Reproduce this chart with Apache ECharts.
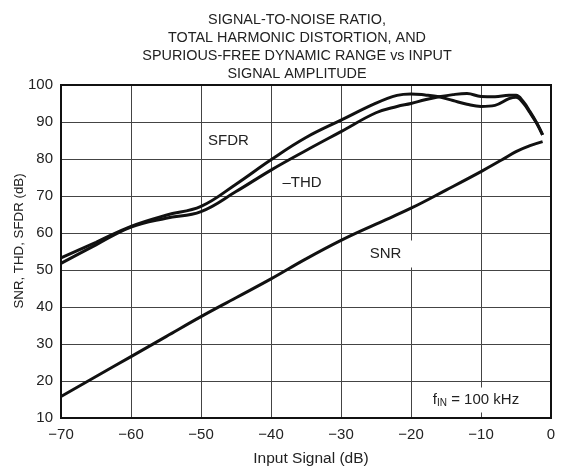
<!DOCTYPE html>
<html>
<head>
<meta charset="utf-8">
<script src="https://cdn.jsdelivr.net/npm/echarts@6/dist/echarts.min.js"></script>
<style>
html,body{margin:0;padding:0;background:#fff;}
#chart{width:561px;height:470px;}
</style>
</head>
<body>
<div id="chart"></div>
<script>
var sfdrX = [-70, -65, -60, -55, -50, -45, -40, -35, -30, -25, -22, -20, -18, -16, -14, -12, -10, -8, -6, -5, -4, -3, -2, -1.2];
var sfdrY = [53.3, 57.5, 61.8, 64.8, 67.2, 73.2, 79.8, 85.8, 90.5, 95.1, 97.2, 97.6, 97.3, 96.8, 95.8, 94.8, 94.2, 94.5, 96.3, 96.7, 95.2, 92.5, 89.5, 86.5];
var thdX = [-70, -65, -60, -55, -50, -45, -40, -35, -30, -25, -22, -20, -18, -16, -14, -12, -10, -8, -6, -5, -4, -3, -2, -1.2];
var thdY = [51.8, 56.8, 61.6, 64.0, 65.8, 71.2, 77.0, 82.3, 87.4, 92.5, 94.2, 95.0, 96.0, 96.8, 97.4, 97.7, 96.9, 96.8, 97.2, 97.2, 95.6, 92.8, 89.6, 86.5];
var snrX = [-70, -65, -60, -55, -50, -45, -40, -35, -30, -25, -20, -15, -10, -7, -5, -3, -1.2];
var snrY = [15.8, 21.2, 26.6, 32.0, 37.4, 42.5, 47.6, 53.0, 58.0, 62.4, 66.7, 71.6, 76.6, 79.8, 82.0, 83.6, 84.7];
var xTicks = [-70, -60, -50, -40, -30, -20, -10, 0];
var yTicks = [10, 20, 30, 40, 50, 60, 70, 80, 90, 100];
var titleLines = ['SIGNAL-TO-NOISE RATIO,', 'TOTAL HARMONIC DISTORTION, AND', 'SPURIOUS-FREE DYNAMIC RANGE vs INPUT', 'SIGNAL AMPLITUDE'];

function pairs(xs, ys) { return xs.map(function (x, i) { return [x, ys[i]]; }); }

var FONT = '"Liberation Sans", Arial, Helvetica, sans-serif';
var chart = echarts.init(document.getElementById('chart'), null, {renderer: 'canvas'});
var lineStyle = {color: '#111', width: 3};

var option = {
  backgroundColor: '#fff',
  animation: false,
  title: {
    text: titleLines.join('\n'),
    left: 292, top: 6, textAlign: 'center',
    textStyle: {fontFamily: FONT, fontSize: 14.4, fontWeight: 'normal', color: '#222', lineHeight: 18}
  },
  grid: {left: 61, right: 10, top: 85, bottom: 52},
  xAxis: {
    type: 'value', min: xTicks[0], max: xTicks[xTicks.length - 1], interval: 10,
    axisLine: {show: false},
    axisTick: {show: false},
    axisLabel: {fontFamily: FONT, fontSize: 15, color: '#222', margin: 9,
      formatter: function (v) { return v < 0 ? '\u2212' + Math.abs(v) : String(v); }},
    splitLine: {show: true, lineStyle: {color: '#444', width: 1}}
  },
  yAxis: {
    type: 'value', min: yTicks[0], max: yTicks[yTicks.length - 1], interval: 10,
    axisLine: {show: false},
    axisTick: {show: false},
    axisLabel: {fontFamily: FONT, fontSize: 15, color: '#222', margin: 8},
    splitLine: {show: true, lineStyle: {color: '#444', width: 1}}
  },
  graphic: [
    {type: 'rect', shape: {x: 61, y: 85, width: 490, height: 333}, style: {fill: 'none', stroke: '#111', lineWidth: 2}, z: 100},
    {type: 'text', x: 19, y: 241, rotation: Math.PI / 2,
      style: {text: 'SNR, THD, SFDR (dB)', font: '13.3px ' + FONT, fill: '#222', textAlign: 'center', textVerticalAlign: 'middle'}},
    {type: 'text', x: 311, y: 459,
      style: {text: 'Input Signal (dB)', font: '15.5px ' + FONT, fill: '#222', textAlign: 'center', textVerticalAlign: 'middle'}},
    {type: 'text', x: 228, y: 141, z: 50,
      style: {text: 'SFDR', font: '15px ' + FONT, fill: '#222', textAlign: 'center', textVerticalAlign: 'middle',
        backgroundColor: '#fff', padding: [4, 5, 4, 6]}},
    {type: 'text', x: 308, y: 183, z: 50,
      style: {text: '\u2013THD', font: '15px ' + FONT, fill: '#222', textAlign: 'center', textVerticalAlign: 'middle',
        backgroundColor: '#fff', padding: [5, 16, 5, 4]}},
    {type: 'text', x: 387, y: 254, z: 50,
      style: {text: 'SNR', font: '15px ' + FONT, fill: '#222', textAlign: 'center', textVerticalAlign: 'middle',
        backgroundColor: '#fff', padding: [6, 11, 6, 8]}},
    {type: 'text', x: 476, y: 400, z: 50,
      style: {text: '{a|f}{s|IN}{a| = 100 kHz}', textAlign: 'center', textVerticalAlign: 'middle',
        backgroundColor: '#fff', padding: [4, 4, 4, 4],
        rich: {a: {font: '15px ' + FONT, fill: '#222'}, s: {font: '10px ' + FONT, fill: '#222', padding: [7, 0, 0, 0]}}}}
  ],
  series: [
    {name: 'SFDR', type: 'line', data: pairs(sfdrX, sfdrY), smooth: 0.4, showSymbol: false, lineStyle: lineStyle, z: 10},
    {name: '-THD', type: 'line', data: pairs(thdX, thdY), smooth: 0.4, showSymbol: false, lineStyle: lineStyle, z: 10},
    {name: 'SNR', type: 'line', data: pairs(snrX, snrY), smooth: 0.4, showSymbol: false, lineStyle: lineStyle, z: 10}
  ]
};
chart.setOption(option);
</script>
</body>
</html>
